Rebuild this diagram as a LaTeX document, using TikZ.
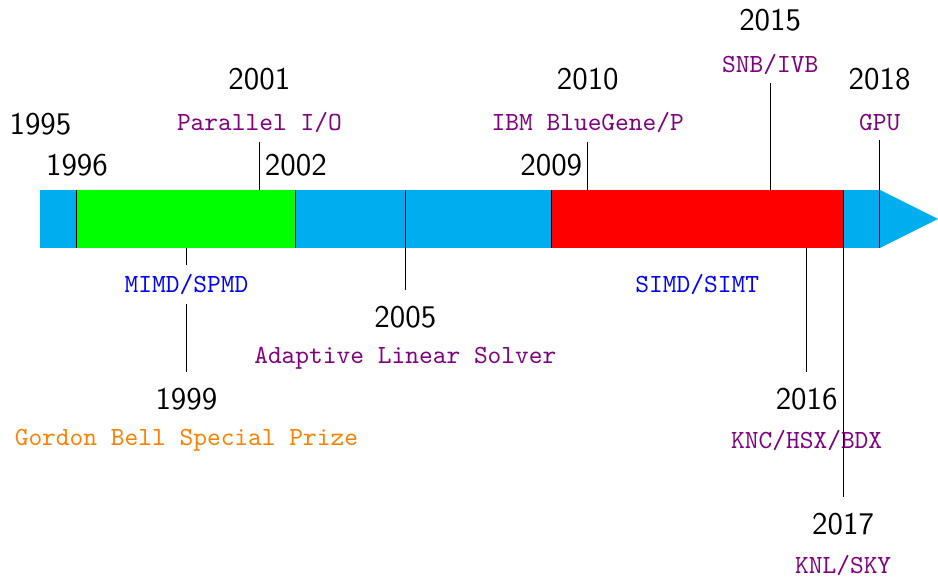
\documentclass[tikz,border=0pt]{standalone}
\usepackage{xcolor}
\usepackage{tikz}
\usetikzlibrary{positioning}
\definecolor{barcyan}{HTML}{00AEEF}
\definecolor{eragreen}{HTML}{00FF00}
\definecolor{erared}{HTML}{FF0000}
\definecolor{evviolet}{HTML}{800080}
\definecolor{erablue}{HTML}{0000FF}
\definecolor{evorange}{HTML}{FF8000}

\begin{document}
\begin{tikzpicture}[x=0.5cm,y=1cm,
    yr/.style={font=\fontsize{12.3}{14}\selectfont\sffamily},
    ev/.style={font=\fontsize{10.2}{12}\selectfont\ttfamily,text=evviolet},
    era/.style={font=\fontsize{10.2}{12}\selectfont\ttfamily,text=erablue}]
  \useasboundingbox (-1.11,-4.904) rectangle (24.6,3.0);
  % the time bar, one unit per year from 1995
  \fill[barcyan] (0,-0.4) rectangle (23,0.4);
  \fill[barcyan] (23,-0.4) -- (24.6,0) -- (23,0.4) -- cycle;
  \fill[eragreen] (1,-0.4) rectangle (7,0.4);
  \fill[erared] (14,-0.4) rectangle (22,0.4);
  \foreach \x in {1,7,14}
    \draw (\x,-0.4) -- (\x,0.4);
  % plain years
  \node[yr] (y1995) at (0,1.30) {1995};
  \node[yr] (y1996) at (1,0.74) {1996};
  \node[yr] (y2002) at (7,0.74) {2002};
  \node[yr] (y2009) at (14,0.74) {2009};
  % eras
  \node[era] (mimd) at (4,-0.90) {MIMD/SPMD};
  \node[era] (simd) at (18,-0.90) {SIMD/SIMT};
  % events above the bar
  \foreach \x/\yr/\lab/\h/\b in {6/2001/{Parallel I/O}/1.315/0.4,15/2010/{IBM BlueGene/P}/1.315/0.4,20/2015/{SNB/IVB}/2.12/0.4,23/2018/{GPU}/1.315/-0.4} {
    \coordinate (t\yr) at (\x,\b);
    \node[ev] (l\yr) at (\x,\h) {\lab};
    \node[yr] (y\yr) at (\x,\h+0.6) {\yr};
    \draw (t\yr) -- (l\yr);
  }
  % events below the bar
  \foreach \x/\yr/\lab/\e/\b/\c in {10/2005/{Adaptive Linear Solver}/-0.97/0.4/evviolet,21/2016/{KNC/HSX/BDX}/-2.10/-0.4/evviolet,22/2017/{KNL/SKY}/-3.81/0.4/evviolet} {
    \coordinate (t\yr) at (\x,\b);
    \coordinate (e\yr) at (\x,\e);
    \node[yr] (y\yr) at (\x,\e-0.375) {\yr};
    \node[ev,text=\c] (l\yr) at (\x,\e-0.935) {\lab};
    \draw (t\yr) -- (e\yr);
  }
  % 1999 runs through the era label
  \coordinate (t1999) at (4,-0.4);
  \coordinate (e1999) at (4,-2.10);
  \node[yr] (y1999) at (4,-2.475) {1999};
  \node[ev,text=evorange] (l1999) at (4,-3.035) {Gordon Bell Special Prize};
  \draw (t1999) -- (mimd);
  \draw (mimd) -- (e1999);
\end{tikzpicture}
\end{document}
